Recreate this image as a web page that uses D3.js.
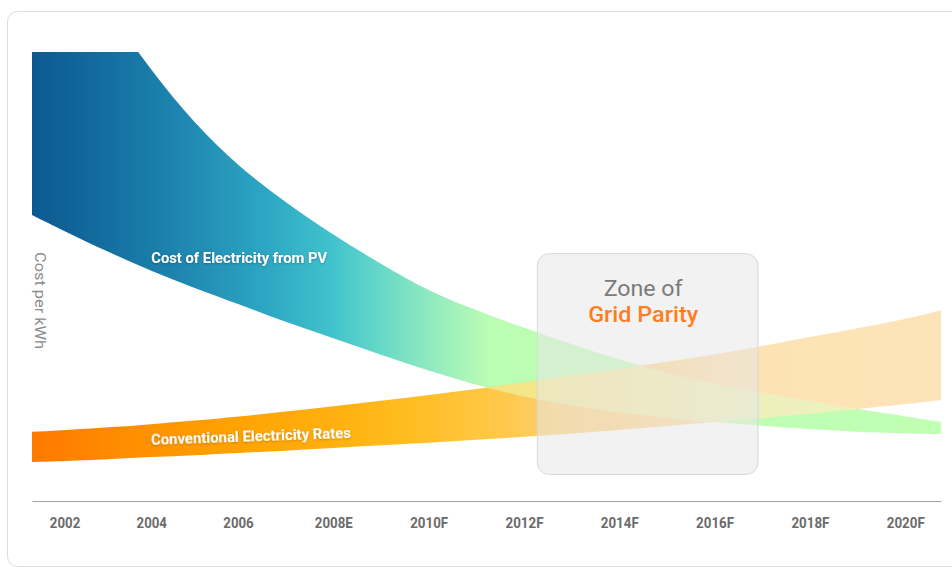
<!DOCTYPE html>
<html>
<head>
<meta charset="utf-8">
<script src="https://cdn.jsdelivr.net/npm/d3@7"></script>
<style>
  html, body { margin: 0; padding: 0; background: #ffffff; }
  svg { display: block; }
</style>
</head>
<body>
<svg id="chart" width="952" height="567"></svg>
<script>
// ---------- data ----------
const years = [2001.25, 2002, 2003, 2004, 2005, 2006, 2007, 2008, 2009, 2010, 2011,
               2012, 2013, 2014, 2015, 2016, 2017, 2018, 2019, 2020, 2020.75];
// Cost of electricity from PV band (upper / lower edge, relative cost units)
const pvHigh = [138.3, 124.9, 109.4, 95.8, 84.0, 74.6, 66.4, 59.2, 52.8, 46.7, 42.5,
                38.5, 35.0, 31.4, 28.5, 26.1, 24.1, 22.3, 20.5, 18.9, 17.6];
const pvLow  = [63.7, 60.1, 55.5, 51.2, 47.4, 43.9, 39.8, 36.3, 32.5, 29.0, 25.8,
                23.2, 21.2, 19.6, 18.5, 17.6, 16.7, 16.0, 15.4, 15.1, 14.9];
// Conventional electricity rates band
const gridHigh = [15.4, 15.8, 16.4, 17.1, 17.9, 18.8, 19.9, 21.1, 22.3, 23.6, 24.9,
                  26.4, 27.9, 29.4, 31.0, 32.6, 34.5, 36.5, 38.5, 40.5, 42.5];
const gridLow  = [8.7, 8.9, 9.3, 9.8, 10.2, 10.7, 11.2, 11.8, 12.4, 13.0, 13.6,
                  14.3, 15.0, 15.8, 16.7, 17.6, 18.5, 19.5, 20.5, 21.6, 22.5];
const tickYears  = [2002, 2004, 2006, 2008, 2010, 2012, 2014, 2016, 2018, 2020];
const tickLabels = ["2002", "2004", "2006", "2008E", "2010F", "2012F", "2014F", "2016F", "2018F", "2020F"];
const zoneYears = [2012.27, 2016.9];
const zoneCost  = [6.0, 55.2];
const pvLabel = "Cost of Electricity from PV";
const gridLabel = "Conventional Electricity Rates";
const yTitle = "Cost per kWh";
const zoneTitle = ["Zone of", "Grid Parity"];

// ---------- layout ----------
const svg = d3.select("#chart");
const x = d3.scaleLinear().domain([2001.25, 2006, 2020.75]).range([32, 238, 941]);
const y = d3.scaleLinear().domain([0, 100]).range([501, 52]);

const pvData = years.map((yr, i) => ({ yr, hi: pvHigh[i], lo: pvLow[i] }));
const gridData = years.map((yr, i) => ({ yr, hi: gridHigh[i], lo: gridLow[i] }));

const area = d3.area()
  .x(d => x(d.yr))
  .y0(d => y(d.lo))
  .y1(d => y(d.hi))
  .curve(d3.curveBasis);

const defs = svg.append("defs");

function gradient(id, stops) {
  const g = defs.append("linearGradient")
    .attr("id", id)
    .attr("gradientUnits", "userSpaceOnUse")
    .attr("x1", x.range()[0]).attr("x2", x.range()[2])
    .attr("y1", 0).attr("y2", 0);
  const x0 = x.range()[0], w = x.range()[2] - x.range()[0];
  stops.forEach(([px, c]) => g.append("stop").attr("offset", (px - x0) / w).attr("stop-color", c));
}
gradient("pvGrad", [[32, "#0c5990"], [100, "#136c9e"], [180, "#1e86b0"], [270, "#2ea8c4"],
  [330, "#40c2cc"], [380, "#66d8c8"], [430, "#90eac0"], [490, "#bcfdb4"], [941, "#c0ffb4"]]);
gradient("gridGrad", [[32, "#ff7a00"], [120, "#ff8c00"], [220, "#ffa000"], [330, "#ffb010"],
  [400, "#ffbb1e"], [480, "#ffc640"], [540, "#ffcc62"], [640, "#ffd285"], [760, "#fde2b4"], [941, "#fde4b8"]]);
gradient("overGrad", [[460, "#f2e47c"], [530, "#f4e68a"], [640, "#f4ea9e"], [757, "#eef0bc"], [941, "#ecf2c2"]]);

defs.append("clipPath").attr("id", "plotClip")
  .append("rect")
  .attr("x", x.range()[0]).attr("y", y(100))
  .attr("width", x.range()[2] - x.range()[0]).attr("height", y(0) - y(100));
defs.append("clipPath").attr("id", "pvClip")
  .append("path").attr("d", area(pvData));

const shadow = defs.append("filter").attr("id", "txtShadow")
  .attr("x", "-10%").attr("y", "-50%").attr("width", "120%").attr("height", "200%");
shadow.append("feDropShadow").attr("dx", 0).attr("dy", 0.6).attr("stdDeviation", 0.8)
  .attr("flood-color", "#000").attr("flood-opacity", 0.35);

// card
svg.append("rect")
  .attr("x", 7.5).attr("y", 11.5).attr("width", 990).attr("height", 555)
  .attr("rx", 10).attr("fill", "#ffffff").attr("stroke", "#dcdcdc");

// bands
const plot = svg.append("g").attr("clip-path", "url(#plotClip)");
plot.append("path").attr("d", area(pvData)).attr("fill", "url(#pvGrad)");
plot.append("path").attr("d", area(gridData)).attr("fill", "url(#gridGrad)");
plot.append("g").attr("clip-path", "url(#pvClip)")
  .append("path").attr("d", area(gridData)).attr("fill", "url(#overGrad)");

// band labels
svg.append("text")
  .attr("x", x(2004)).attr("y", y(53))
  .attr("textLength", 176).attr("lengthAdjust", "spacingAndGlyphs")
  .attr("font-family", "Roboto, 'Noto Sans', sans-serif")
  .attr("font-weight", "bold").attr("font-size", 15)
  .attr("fill", "#ffffff").attr("filter", "url(#txtShadow)")
  .text(pvLabel);

svg.append("text")
  .attr("transform", `translate(${x(2004)},${y(12.5)}) rotate(-2)`)
  .attr("textLength", 200).attr("lengthAdjust", "spacingAndGlyphs")
  .attr("font-family", "Roboto, 'Noto Sans', sans-serif")
  .attr("font-weight", "bold").attr("font-size", 15)
  .attr("fill", "#ffffff").attr("filter", "url(#txtShadow)")
  .text(gridLabel);

// zone of grid parity
const zx0 = x(zoneYears[0]), zx1 = x(zoneYears[1]);
const zy0 = y(zoneCost[1]), zy1 = y(zoneCost[0]);
svg.append("rect")
  .attr("x", zx0 + 0.5).attr("y", zy0 + 0.5)
  .attr("width", zx1 - zx0).attr("height", zy1 - zy0)
  .attr("rx", 12)
  .attr("fill", "rgb(231,231,231)").attr("fill-opacity", 0.54)
  .attr("stroke", "#d8d8d8").attr("stroke-width", 1);

const zc = (zx0 + zx1) / 2 - 4;
svg.append("text")
  .attr("x", zc).attr("y", zy0 + 43)
  .attr("text-anchor", "middle")
  .attr("textLength", 79).attr("lengthAdjust", "spacingAndGlyphs")
  .attr("font-family", "Roboto, 'Noto Sans', sans-serif")
  .attr("font-size", 22).attr("fill", "#7b7b7b")
  .text(zoneTitle[0]);
svg.append("text")
  .attr("x", zc).attr("y", zy0 + 69)
  .attr("text-anchor", "middle")
  .attr("textLength", 110).attr("lengthAdjust", "spacingAndGlyphs")
  .attr("font-family", "Roboto, 'Noto Sans', sans-serif")
  .attr("font-weight", 500)
  .attr("font-size", 22).attr("fill", "#ff7d1c")
  .text(zoneTitle[1]);

// x axis
const xAxis = d3.axisBottom(x)
  .tickValues(tickYears)
  .tickFormat((d, i) => tickLabels[i])
  .tickSize(0).tickPadding(16);
const ax = svg.append("g").attr("transform", `translate(0,${y(0)})`).call(xAxis);
ax.select(".domain").attr("stroke", "#a3a3a3").attr("stroke-width", 1.2);
ax.selectAll("text")
  .attr("font-family", "Roboto, 'Noto Sans', sans-serif")
  .attr("font-weight", "bold").attr("font-size", 15)
  .attr("fill", "#6b6b6b")
  .attr("textLength", d => tickLabels[tickYears.indexOf(d)].length * 7.6)
  .attr("lengthAdjust", "spacingAndGlyphs");

// y title
svg.append("text")
  .attr("transform", `translate(35,${(y(55.2) + y(34.1)) / 2}) rotate(90)`)
  .attr("text-anchor", "middle")
  .attr("textLength", 97).attr("lengthAdjust", "spacingAndGlyphs")
  .attr("font-family", "Roboto, 'Noto Sans', sans-serif")
  .attr("font-size", 14).attr("fill", "#8c8c8c")
  .text(yTitle);
</script>
</body>
</html>
